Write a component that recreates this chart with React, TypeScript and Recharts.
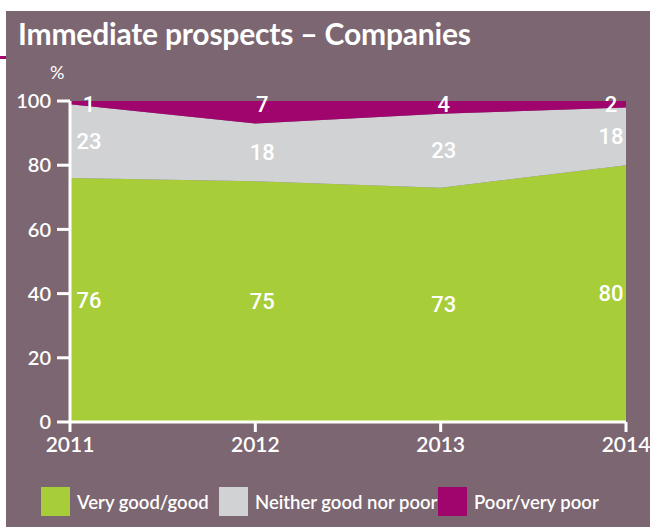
import { AreaChart, Area, XAxis, YAxis, LabelList } from "recharts"

const years = ["2011", "2012", "2013", "2014"]
const veryGood = [76, 75, 73, 80]
const neither = [23, 18, 23, 18]
const poor = [1, 7, 4, 2]
const yTicks = [0, 20, 40, 60, 80, 100]

const BG = "#7c6671"
const GREEN = "#a7cd39"
const GREY = "#d1d2d4"
const MAGENTA = "#a0056e"

const data = years.map((year, i) => ({
  year,
  good: veryGood[i],
  neither: neither[i],
  poor: poor[i],
}))

// plot area in px
const TOP = 101
const BOTTOM = 422
const X_AXIS_H = 40
const PX = (BOTTOM - TOP) / 100
const X_SHIFT = [19, 7, 3, -15]

const makeLabel = (mode: "mid" | "top") => (props: any) => {
  const { x, y, value, index } = props
  const cy = mode === "mid" ? y + (value * PX) / 2 : y + 3
  return (
    <text
      x={x + X_SHIFT[index]}
      y={cy}
      fill="#fff"
      fontSize={22}
      fontFamily="Roboto, sans-serif"
      fontWeight={500}
      textAnchor="middle"
      dominantBaseline="central"
    >
      {value}
    </text>
  )
}

const legendItems = [
  { name: "Very good/good", color: GREEN, width: 178 },
  { name: "Neither good nor poor", color: GREY, width: 219 },
  { name: "Poor/very poor", color: MAGENTA, width: 170 },
]

export default function App() {
  return (
    <div style={{ position: "absolute", left: 0, top: 0, width: 650, height: 527, background: "#fff", overflow: "hidden" }}>
      <div style={{ position: "absolute", left: 6, top: 11, width: 644, height: 516, background: BG }} />
      <div style={{ position: "absolute", left: 0, top: 56, width: 6, height: 3, background: MAGENTA }} />
      <div
        style={{
          position: "absolute",
          left: 18,
          top: 14,
          color: "#fff",
          fontFamily: "Lato, sans-serif",
          fontWeight: 700,
          fontSize: 30,
          lineHeight: "38px",
          letterSpacing: -0.2,
          whiteSpace: "nowrap",
        }}
      >
        Immediate prospects – Companies
      </div>
      <div
        style={{
          position: "absolute",
          left: 50,
          top: 61,
          color: "#fff",
          fontFamily: "Lato, sans-serif",
          fontSize: 18,
          lineHeight: "22px",
        }}
      >
        %
      </div>
      <div style={{ position: "absolute", left: 0, top: 0 }}>
        <AreaChart
          width={650}
          height={527}
          data={data}
          margin={{ top: TOP, right: 24, bottom: 527 - BOTTOM - X_AXIS_H, left: 6 }}
        >
          <XAxis
            dataKey="year"
            axisLine={{ stroke: "#fff", strokeWidth: 3 }}
            tickLine={{ stroke: "#fff", strokeWidth: 3 }}
            tickSize={10}
            tickMargin={5}
            interval={0}
            height={X_AXIS_H}
            tick={{ fill: "#fff", fontSize: 21, fontFamily: "Lato, sans-serif", fontWeight: 600 }}
          />
          <YAxis
            domain={[0, 100]}
            ticks={yTicks}
            allowDataOverflow
            width={64}
            axisLine={{ stroke: "#fff", strokeWidth: 3 }}
            tickLine={{ stroke: "#fff", strokeWidth: 3 }}
            tickSize={13}
            tickMargin={6}
            tick={{ fill: "#fff", fontSize: 20, fontFamily: "Lato, sans-serif", fontWeight: 600 }}
          />
          <Area
            dataKey="good"
            stackId="1"
            type="linear"
            fill={GREEN}
            fillOpacity={1}
            stroke="none"
            isAnimationActive={false}
          >
            <LabelList dataKey="good" content={makeLabel("mid")} />
          </Area>
          <Area
            dataKey="neither"
            stackId="1"
            type="linear"
            fill={GREY}
            fillOpacity={1}
            stroke="none"
            isAnimationActive={false}
          >
            <LabelList dataKey="neither" content={makeLabel("mid")} />
          </Area>
          <Area
            dataKey="poor"
            stackId="1"
            type="linear"
            fill={MAGENTA}
            fillOpacity={1}
            stroke="none"
            isAnimationActive={false}
          >
            <LabelList dataKey="poor" content={makeLabel("top")} />
          </Area>
        </AreaChart>
      </div>
      <div style={{ position: "absolute", left: 41, top: 487, display: "flex" }}>
        {legendItems.map((item) => (
          <div key={item.name} style={{ display: "flex", alignItems: "center", width: item.width }}>
            <div style={{ width: 29, height: 29, background: item.color, flexShrink: 0 }} />
            <span
              style={{
                marginLeft: 7,
                color: "#fff",
                fontFamily: "Lato, sans-serif",
                fontWeight: 600,
                fontSize: 18.5,
                whiteSpace: "nowrap",
              }}
            >
              {item.name}
            </span>
          </div>
        ))}
      </div>
    </div>
  )
}
